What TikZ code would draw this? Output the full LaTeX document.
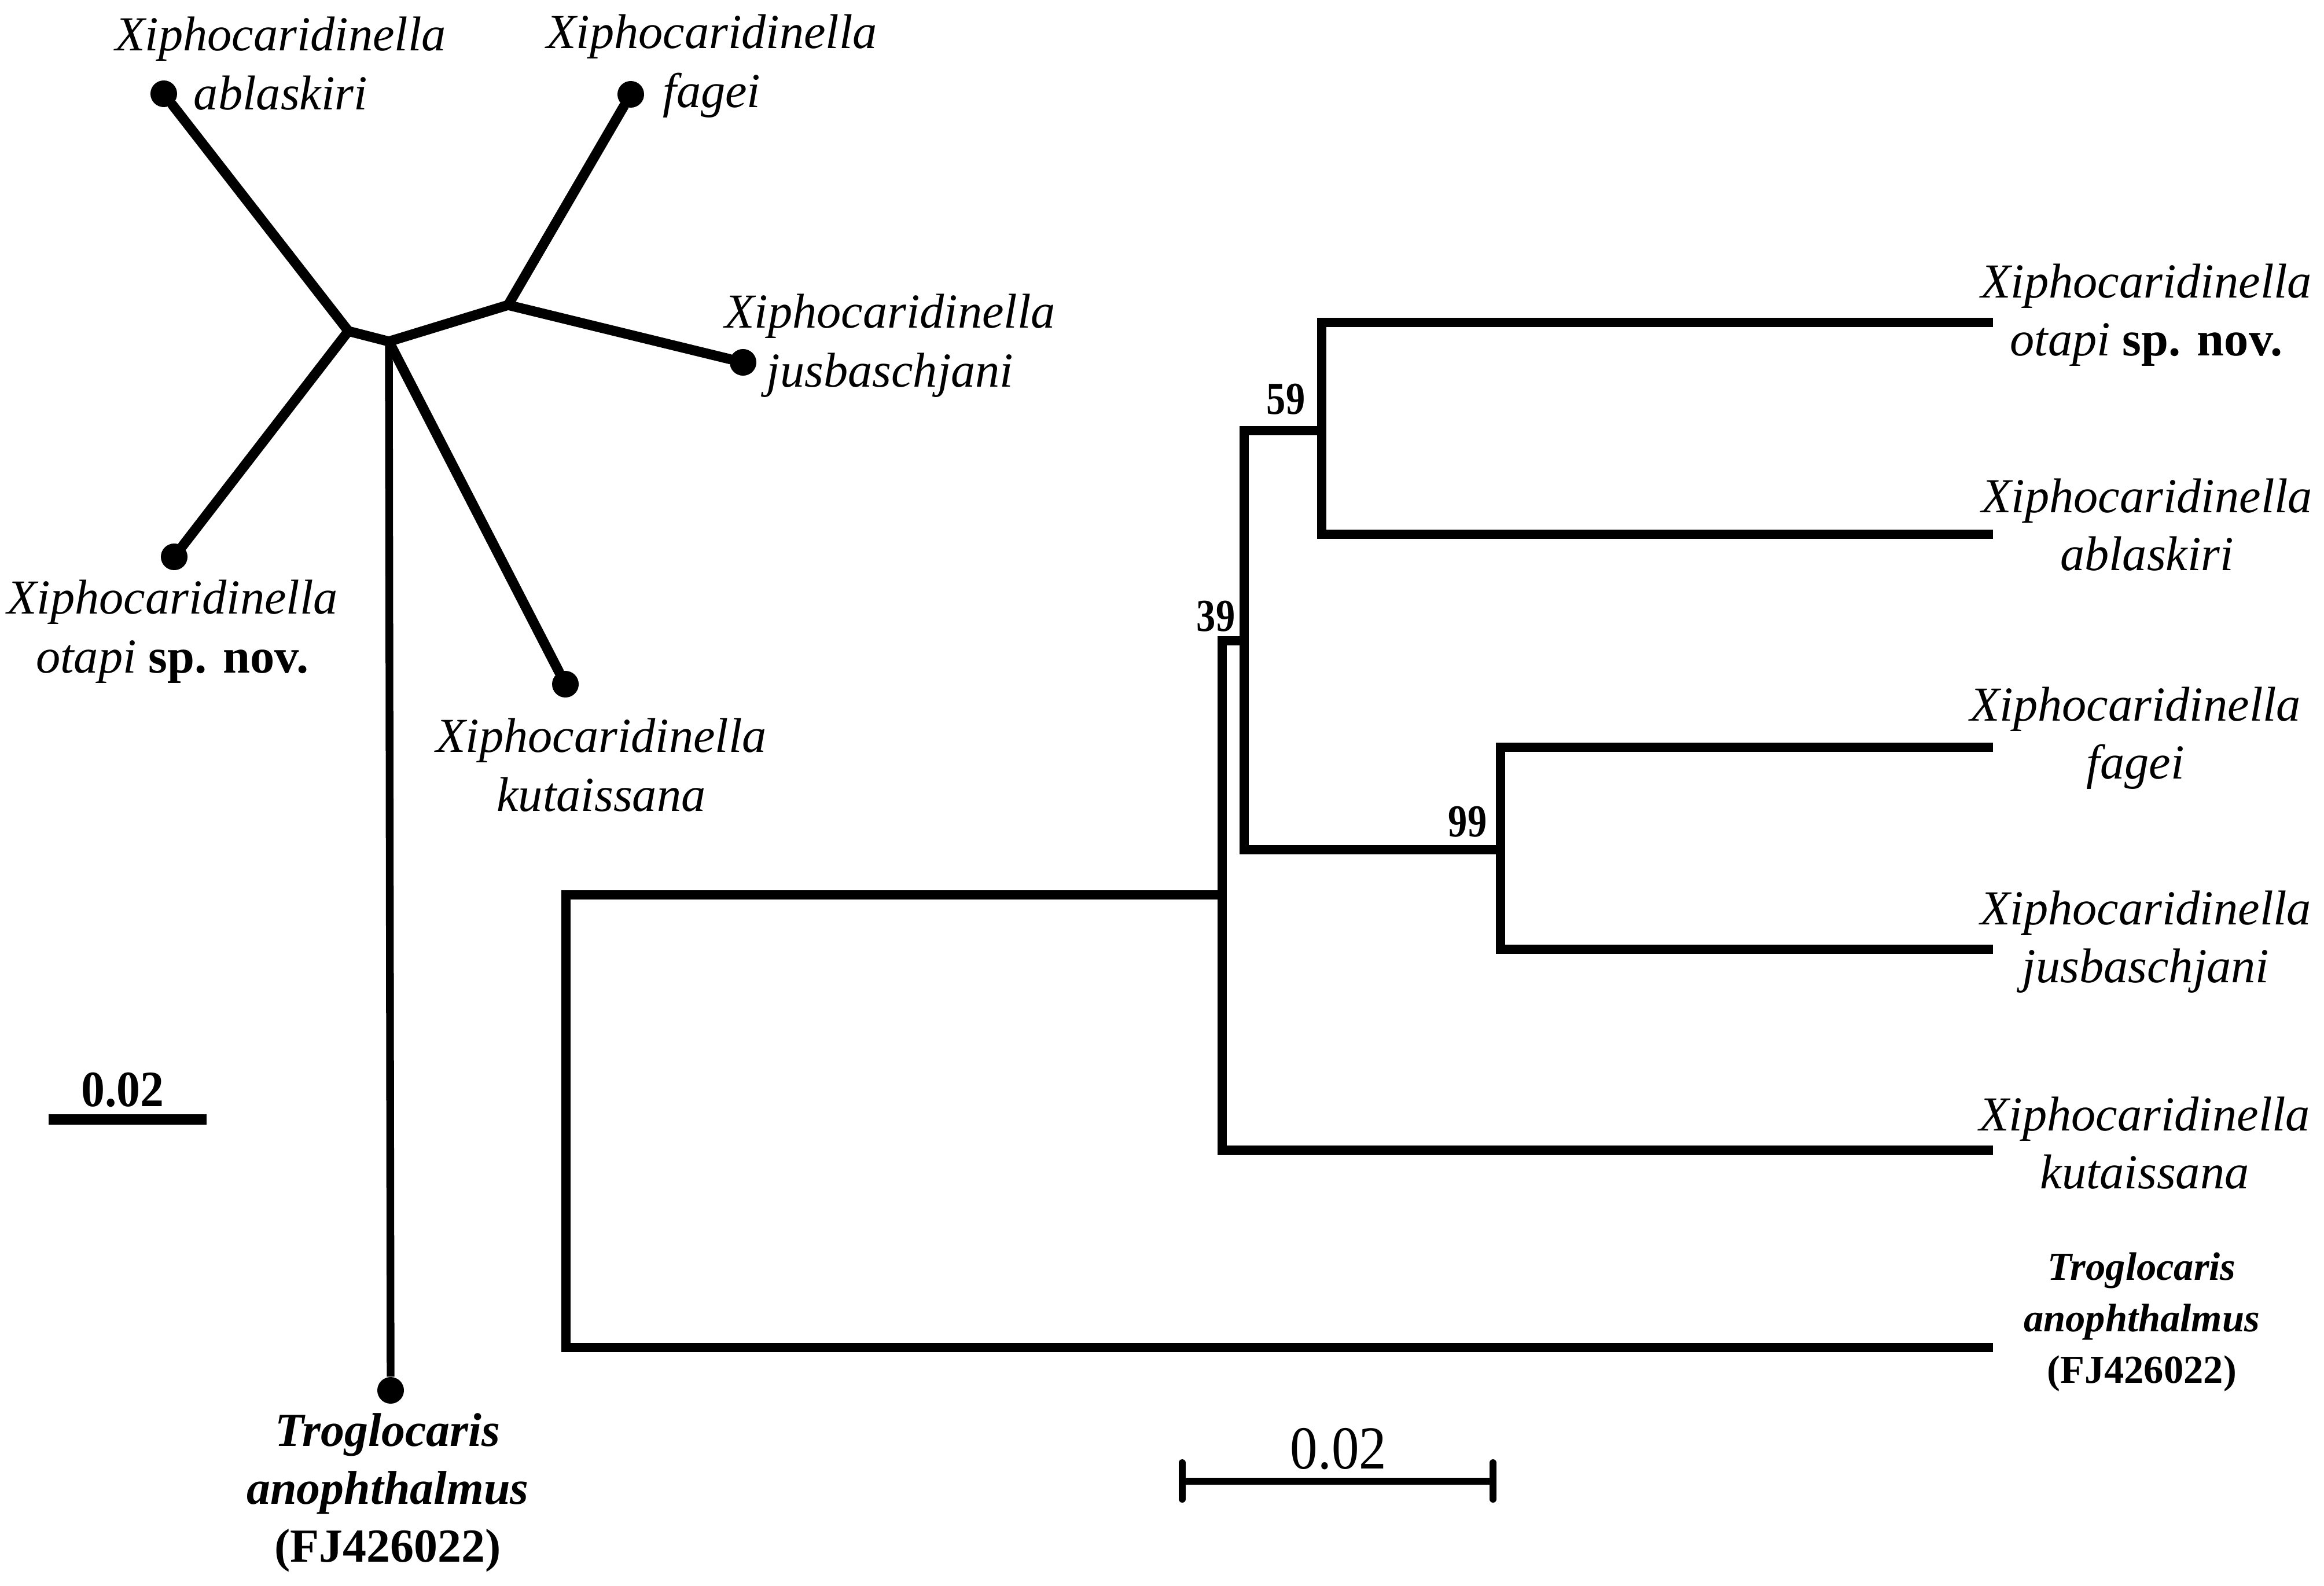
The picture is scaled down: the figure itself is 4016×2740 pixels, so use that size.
\documentclass[tikz,border=0pt]{standalone}
\usepackage{fontspec}
\setmainfont{Liberation Serif}
\newfontfamily\condbootfont[FakeStretch=0.84]{Liberation Serif}
\newfontfamily\condscalefont[FakeStretch=0.9]{Liberation Serif}
\newfontfamily\condscalebfont[FakeStretch=0.93]{Liberation Serif}
\begin{document}
\begin{tikzpicture}[x=0.01cm,y=-0.01cm,
  br/.style={line width=4.9pt, line cap=round, line join=round},
  trl/.style={line width=4.5pt, line cap=butt, line join=miter},
  dot/.style={circle, fill=black, inner sep=0pt, minimum size=0.46cm},
  lab/.style={align=center, inner sep=0pt, font=\fontsize{24}{29}\selectfont\itshape},
  rlab/.style={align=center, inner sep=0pt, font=\fontsize{24}{28.5}\selectfont\itshape},
  trog/.style={align=center, inner sep=0pt, font=\fontsize{23.3}{28.5}\selectfont\bfseries\itshape},
  rtrog/.style={align=center, inner sep=0pt, font=\fontsize{19.5}{25.3}\selectfont\bfseries\itshape},
  boot/.style={inner sep=0pt, font=\condbootfont\fontsize{22.5}{26}\selectfont\bfseries},
  sbar/.style={line width=5pt, line cap=butt}
]
\useasboundingbox[fill=white] (0,0) rectangle (4016,2740);

% ---------------- unrooted tree (left) ----------------
\coordinate (A) at (602,572);
\coordinate (B) at (672,590);
\coordinate (C) at (878,527);
\node[dot] (dAbl) at (283,162) {};
\node[dot] (dFag) at (1090,163) {};
\node[dot] (dJus) at (1284,626) {};
\node[dot] (dOta) at (301,962) {};
\node[dot] (dKut) at (977,1182) {};
\node[dot] (dTro) at (675,2402) {};

\draw[br] (dAbl) -- (A) -- (dOta);
\draw[br] (A) -- (B) -- (C);
\draw[br] (C) -- (dFag);
\draw[br] (C) -- (dJus);
\draw[br] (B) -- (dKut);
\draw[line width=3.8pt] (B) -- (dTro);

\node[lab] (tAbl) at (485,110) {Xiphocaridinella\\ablaskiri};
\node[lab] (tFag) at (1230,114) {Xiphocaridinella\\fagei};
\node[lab] (tJus) at (1538,597) {Xiphocaridinella\\jusbaschjani};
\node[lab] (tOta) at (298,1091) {Xiphocaridinella\\otapi \textbf{\upshape sp. nov.}};
\node[lab] (tKut) at (1039,1322) {Xiphocaridinella\\kutaissana};
\node[trog] (tTro) at (670,2579) {Troglocaris\\anophthalmus\\\upshape(FJ426022)};

% left scale bar
\coordinate (sl1) at (84,1934);
\coordinate (sl2) at (357,1934);
\draw[sbar] (sl1) -- (sl2);
\node[inner sep=0pt, font=\condscalebfont\fontsize{25}{28}\selectfont\bfseries] (sLab) at (212,1883) {0.02};

% ---------------- rooted tree (right) ----------------
\coordinate (lOta) at (3444,557);
\coordinate (lAbl) at (3444,923);
\coordinate (lFag) at (3444,1291);
\coordinate (lJus) at (3444,1640);
\coordinate (lKut) at (3444,1987);
\coordinate (lTro) at (3444,2328);
\coordinate (n59) at (2284,744);
\coordinate (nIn) at (2150,1107);
\coordinate (n99) at (2593,1468);
\coordinate (n39) at (2112,1546);
\coordinate (nRoot) at (978,1900);

\draw[trl] (lOta) -| (n59) |- (lAbl);
\draw[trl] (lFag) -| (n99) |- (lJus);
\draw[trl] (n59) -| (nIn) |- (n99);
\draw[trl] (nIn) -| (n39) |- (lKut);
\draw[trl] (n39) -| (nRoot) |- (lTro);

\node[boot] (b59) at (2222,690) {59};
\node[boot] (b39) at (2101,1065) {39};
\node[boot] (b99) at (2536,1420) {99};

\node[rlab] (rOta) at (3709,544) {Xiphocaridinella\\otapi \textbf{\upshape sp. nov.}};
\node[rlab] (rAbl) at (3710,907) {Xiphocaridinella\\ablaskiri};
\node[rlab] (rFag) at (3690,1275) {Xiphocaridinella\\fagei};
\node[rlab] (rJus) at (3708,1627) {Xiphocaridinella\\jusbaschjani};
\node[rlab] (rKut) at (3706,1975) {Xiphocaridinella\\kutaissana};
\node[rtrog] (rTro) at (3701,2284) {Troglocaris\\anophthalmus\\\upshape(FJ426022)};

% right scale bar
\coordinate (sr1) at (2043,2559);
\coordinate (sr2) at (2580,2559);
\coordinate (sr1t) at (2043,2527);
\coordinate (sr1b) at (2043,2590);
\coordinate (sr2t) at (2580,2527);
\coordinate (sr2b) at (2580,2590);
\draw[line width=3.5pt] (sr1) -- (sr2);
\draw[line width=3.4pt, line cap=round] (sr1t) -- (sr1b);
\draw[line width=3.4pt, line cap=round] (sr2t) -- (sr2b);
\node[inner sep=0pt, font=\condscalefont\fontsize{30}{34}\selectfont] (sRLab) at (2313,2503) {0.02};
\end{tikzpicture}
\end{document}
